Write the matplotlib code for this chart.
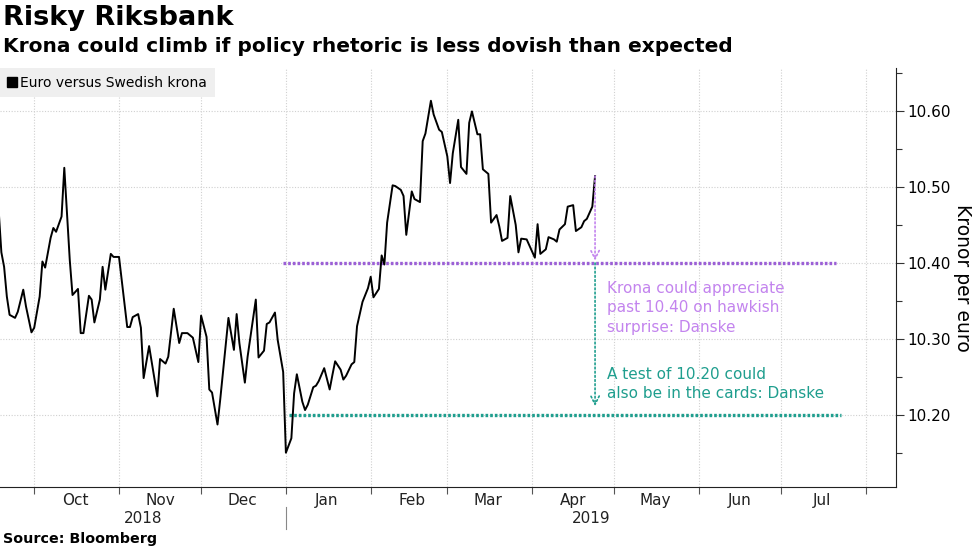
import matplotlib
matplotlib.use("Agg")
import matplotlib.pyplot as plt
import matplotlib.dates as mdates
from matplotlib.lines import Line2D
from matplotlib.transforms import blended_transform_factory
import pandas as pd

# ---------------- data ----------------
dates = [
    "2018-09-18", "2018-09-19", "2018-09-20", "2018-09-21", "2018-09-22", "2018-09-24",
    "2018-09-25", "2018-09-27", "2018-09-28", "2018-09-30", "2018-10-01", "2018-10-03",
    "2018-10-04", "2018-10-05", "2018-10-07", "2018-10-08", "2018-10-09", "2018-10-11",
    "2018-10-12", "2018-10-14", "2018-10-15", "2018-10-17", "2018-10-18", "2018-10-19",
    "2018-10-21", "2018-10-22", "2018-10-23", "2018-10-25", "2018-10-26", "2018-10-27",
    "2018-10-29", "2018-10-30", "2018-11-01", "2018-11-04", "2018-11-05", "2018-11-06",
    "2018-11-08", "2018-11-09", "2018-11-10", "2018-11-12", "2018-11-15", "2018-11-16",
    "2018-11-18", "2018-11-19", "2018-11-21", "2018-11-23", "2018-11-24", "2018-11-26",
    "2018-11-28", "2018-11-30", "2018-12-01", "2018-12-03", "2018-12-04", "2018-12-05",
    "2018-12-07", "2018-12-08", "2018-12-10", "2018-12-11", "2018-12-13", "2018-12-14",
    "2018-12-15", "2018-12-17", "2018-12-18", "2018-12-19", "2018-12-21", "2018-12-22",
    "2018-12-24", "2018-12-25", "2018-12-26", "2018-12-28", "2018-12-29", "2018-12-31",
    "2019-01-01", "2019-01-03", "2019-01-04", "2019-01-05", "2019-01-07", "2019-01-08",
    "2019-01-09", "2019-01-11", "2019-01-12", "2019-01-13", "2019-01-15", "2019-01-17",
    "2019-01-18", "2019-01-19", "2019-01-21", "2019-01-22", "2019-01-23", "2019-01-25",
    "2019-01-26", "2019-01-27", "2019-01-29", "2019-01-31", "2019-02-01", "2019-02-02",
    "2019-02-04", "2019-02-05", "2019-02-06", "2019-02-07", "2019-02-09", "2019-02-10",
    "2019-02-12", "2019-02-13", "2019-02-14", "2019-02-16", "2019-02-17", "2019-02-19",
    "2019-02-20", "2019-02-21", "2019-02-23", "2019-02-24", "2019-02-26", "2019-02-27",
    "2019-03-01", "2019-03-02", "2019-03-03", "2019-03-05", "2019-03-06", "2019-03-08",
    "2019-03-09", "2019-03-10", "2019-03-12", "2019-03-13", "2019-03-14", "2019-03-16",
    "2019-03-17", "2019-03-19", "2019-03-20", "2019-03-21", "2019-03-23", "2019-03-24",
    "2019-03-26", "2019-03-27", "2019-03-28", "2019-03-30", "2019-03-31", "2019-04-02",
    "2019-04-03", "2019-04-04", "2019-04-06", "2019-04-07", "2019-04-09", "2019-04-10",
    "2019-04-11", "2019-04-13", "2019-04-14", "2019-04-16", "2019-04-17", "2019-04-19",
    "2019-04-20", "2019-04-21", "2019-04-23", "2019-04-24",
]
eursek = [
    10.470, 10.414, 10.395, 10.356, 10.332, 10.328,
    10.336, 10.365, 10.343, 10.309, 10.315, 10.356,
    10.402, 10.394, 10.433, 10.446, 10.441, 10.461,
    10.525, 10.404, 10.358, 10.366, 10.308, 10.308,
    10.357, 10.352, 10.322, 10.352, 10.395, 10.365,
    10.412, 10.408, 10.408, 10.316, 10.316, 10.329,
    10.333, 10.315, 10.249, 10.291, 10.225, 10.274,
    10.268, 10.277, 10.340, 10.295, 10.308, 10.308,
    10.302, 10.270, 10.331, 10.303, 10.234, 10.230,
    10.188, 10.221, 10.293, 10.328, 10.286, 10.333,
    10.295, 10.243, 10.277, 10.302, 10.352, 10.276,
    10.285, 10.320, 10.322, 10.335, 10.299, 10.257,
    10.151, 10.170, 10.229, 10.254, 10.218, 10.207,
    10.214, 10.237, 10.239, 10.245, 10.262, 10.234,
    10.253, 10.271, 10.260, 10.247, 10.252, 10.267,
    10.270, 10.317, 10.349, 10.367, 10.382, 10.355,
    10.366, 10.410, 10.398, 10.453, 10.502, 10.501,
    10.496, 10.488, 10.437, 10.494, 10.484, 10.480,
    10.560, 10.570, 10.613, 10.595, 10.575, 10.572,
    10.540, 10.505, 10.544, 10.588, 10.526, 10.517,
    10.584, 10.599, 10.569, 10.569, 10.523, 10.517,
    10.453, 10.463, 10.448, 10.429, 10.433, 10.488,
    10.450, 10.414, 10.432, 10.431, 10.423, 10.407,
    10.451, 10.412, 10.418, 10.434, 10.431, 10.428,
    10.444, 10.451, 10.474, 10.476, 10.442, 10.447,
    10.455, 10.458, 10.474, 10.514,
]
series_name = "Euro versus Swedish krona"

hawk_level = 10.40
hawk_span = ["2018-12-31", "2019-07-21"]
test_level = 10.20
test_span = ["2019-01-02", "2019-07-23"]
arrow_date = "2019-04-24"
test_arrow_end = 10.212
hawk_arrow_end = 10.403

hawk_text = "Krona could appreciate\npast 10.40 on hawkish\nsurprise: Danske"
test_text = "A test of 10.20 could\nalso be in the cards: Danske"

y_ticks = [10.20, 10.30, 10.40, 10.50, 10.60]
x_range = ["2018-09-18 12:00", "2019-08-12 00:00"]
y_range = [10.106, 10.656]
years = ["2018", "2019"]
year_split = "2019-01-01"

title = "Risky Riksbank"
subtitle = "Krona could climb if policy rhetoric is less dovish than expected"
source = "Source: Bloomberg"
ylabel = "Kronor per euro"

# ---------------- style ----------------
PURPLE_LINE = "#9b5fd6"
PURPLE_TEXT = "#c384ee"
TEAL = "#1f9e8e"
GRID = "#d0d0d0"

plt.rcParams["font.family"] = ["DejaVu Sans"]

x = pd.to_datetime(dates)
fig = plt.figure(figsize=(9.77, 5.49), dpi=100)
ax = fig.add_axes([0.0, 1 - 487 / 549, 896 / 977, (487 - 68) / 549])

xmin, xmax = [pd.Timestamp(s) for s in x_range]
ax.set_xlim(xmin, xmax)
ax.set_ylim(*y_range)

# grid
ax.xaxis.set_major_locator(mdates.MonthLocator())
ax.xaxis.set_minor_locator(mdates.MonthLocator(bymonthday=16))
ax.xaxis.set_major_formatter(mdates.DateFormatter(""))
ax.xaxis.set_minor_formatter(mdates.DateFormatter("%b"))
ax.tick_params(axis="x", which="major", length=5, color="#555555", width=0.8)
ax.tick_params(axis="x", which="minor", length=0, labelsize=11, pad=4, labelcolor="#222222")
ax.grid(True, which="major", axis="both", color=GRID, linestyle=(0, (1, 1.5)), linewidth=0.8)

ax.yaxis.tick_right()
ax.yaxis.set_label_position("right")
ax.set_yticks(y_ticks)
ax.set_yticks([v + 0.05 for v in [10.10] + y_ticks], minor=True)
ax.yaxis.set_major_formatter(plt.FuncFormatter(lambda v, p: f"{v:.2f}"))
ax.tick_params(axis="y", which="major", length=6, width=0.8, labelsize=11, pad=2, color="#333333")
ax.tick_params(axis="y", which="minor", length=4, width=0.8, color="#333333")
ax.set_ylabel(ylabel, rotation=-90, labelpad=2, fontsize=13.5, va="bottom")

for s in ["top", "left"]:
    ax.spines[s].set_visible(False)
ax.spines["right"].set_color("#222222")
ax.spines["bottom"].set_color("#222222")

# reference lines
ax.plot(pd.to_datetime(hawk_span), [hawk_level, hawk_level], color=PURPLE_LINE,
        linestyle=(0, (0.8, 0.6)), linewidth=2.4, zorder=3)
ax.plot(pd.to_datetime(test_span), [test_level, test_level], color=TEAL,
        linestyle=(0, (0.8, 0.6)), linewidth=2.4, zorder=3)

# main series
ax.plot(x, eursek, color="black", linewidth=1.4, zorder=4)

# arrows
ad = pd.Timestamp(arrow_date)
ax.annotate("", xy=(ad, hawk_arrow_end), xytext=(ad, eursek[-1]),
            arrowprops=dict(arrowstyle="->,head_length=0.6,head_width=0.3", color=PURPLE_TEXT,
                            linestyle=(0, (1, 1.5)), linewidth=1.2, shrinkA=0, shrinkB=0), zorder=5)
ax.annotate("", xy=(ad, test_arrow_end), xytext=(ad, hawk_level),
            arrowprops=dict(arrowstyle="->,head_length=0.6,head_width=0.3", color=TEAL,
                            linestyle=(0, (1, 1.5)), linewidth=1.2, shrinkA=0, shrinkB=0), zorder=5)

# annotation texts
tx = ad + pd.Timedelta(days=4.5)
ax.text(tx, 10.377, hawk_text, color=PURPLE_TEXT, fontsize=11, va="top", ha="left",
        linespacing=1.38, zorder=6)
ax.text(tx, 10.264, test_text, color=TEAL, fontsize=11, va="top", ha="left",
        linespacing=1.38, zorder=6)

# legend
handle = Line2D([], [], color="black", marker="s", linestyle="none", markersize=7)
leg = ax.legend([handle], [series_name], loc="upper left", bbox_to_anchor=(0.0, 1.0),
                frameon=True, fancybox=False, borderaxespad=0.0, handlelength=0.6,
                handletextpad=0.3, borderpad=0.55, fontsize=10)
leg.get_frame().set_facecolor("#efefef")
leg.get_frame().set_edgecolor("none")
leg.get_frame().set_alpha(1)

# year labels
trans = blended_transform_factory(ax.transData, ax.transAxes)
split = pd.Timestamp(year_split)
ax.text(xmin + (split - xmin) / 2, -0.076, years[0], transform=trans, ha="center",
        va="center", fontsize=11, color="#222222")
ax.text(split + (xmax - split) / 2, -0.076, years[1], transform=trans, ha="center",
        va="center", fontsize=11, color="#222222")
ax.plot([split, split], [-0.048, -0.10], transform=trans, color="#888888",
        linewidth=0.8, clip_on=False)

# titles
fig.text(3 / 977, 1 - 18 / 549, title, fontsize=19.5, fontweight="bold", va="center", ha="left")
fig.text(3 / 977, 1 - 47 / 549, subtitle, fontsize=14.5, fontweight="bold", va="center", ha="left")
fig.text(3 / 977, 1 - 539 / 549, source, fontsize=10.3, fontweight="bold", va="center", ha="left")

fig.savefig("out.png", dpi=100)
